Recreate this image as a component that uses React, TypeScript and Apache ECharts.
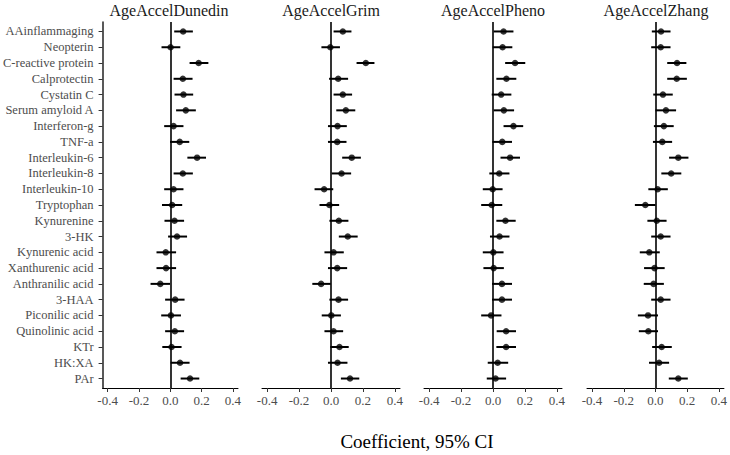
import React, { useEffect, useRef } from "react";
import * as echarts from "echarts";

const categories = [
  "AAinflammaging", "Neopterin", "C-reactive protein", "Calprotectin", "Cystatin C",
  "Serum amyloid A", "Interferon-g", "TNF-a", "Interleukin-6", "Interleukin-8",
  "Interleukin-10", "Tryptophan", "Kynurenine", "3-HK", "Kynurenic acid",
  "Xanthurenic acid", "Anthranilic acid", "3-HAA", "Piconilic acid", "Quinolinic acid",
  "KTr", "HK:XA", "PAr",
];

const panelTitles = ["AgeAccelDunedin", "AgeAccelGrim", "AgeAccelPheno", "AgeAccelZhang"];
const xTicks = [-0.4, -0.2, 0, 0.2, 0.4];

const dunedinEst = [0.082, 0.002, 0.181, 0.080, 0.084, 0.099, 0.021, 0.060, 0.171, 0.080, 0.021, 0.012, 0.027, 0.043, -0.029, -0.027, -0.064, 0.031, 0.004, 0.029, 0.008, 0.062, 0.126];
const dunedinLo = [0.025, -0.056, 0.123, 0.021, 0.027, 0.037, -0.039, -0.002, 0.109, 0.021, -0.039, -0.053, -0.037, -0.014, -0.088, -0.088, -0.126, -0.033, -0.058, -0.033, -0.051, 0.002, 0.066];
const dunedinHi = [0.144, 0.064, 0.243, 0.142, 0.146, 0.163, 0.084, 0.121, 0.228, 0.144, 0.084, 0.076, 0.088, 0.107, 0.037, 0.037, -0.002, 0.091, 0.068, 0.088, 0.072, 0.123, 0.185];

const grimEst = [0.074, -0.004, 0.218, 0.045, 0.074, 0.093, 0.041, 0.039, 0.130, 0.066, -0.043, -0.010, 0.049, 0.105, 0.016, 0.039, -0.062, 0.047, 0.002, 0.016, 0.053, 0.041, 0.119];
const grimLo = [0.016, -0.060, 0.160, -0.012, 0.016, 0.033, -0.019, -0.019, 0.070, 0.004, -0.103, -0.072, -0.010, 0.049, -0.041, -0.019, -0.117, -0.010, -0.058, -0.041, -0.004, -0.019, 0.062];
const grimHi = [0.128, 0.056, 0.272, 0.107, 0.132, 0.152, 0.099, 0.097, 0.187, 0.126, 0.014, 0.051, 0.109, 0.167, 0.080, 0.101, -0.002, 0.107, 0.062, 0.076, 0.111, 0.103, 0.177];

const phenoEst = [0.066, 0.060, 0.138, 0.084, 0.051, 0.068, 0.128, 0.058, 0.107, 0.039, -0.002, -0.008, 0.078, 0.041, 0.002, 0.004, 0.056, 0.056, -0.012, 0.082, 0.082, 0.029, 0.016];
const phenoLo = [0.004, -0.002, 0.076, 0.021, -0.008, 0.004, 0.066, -0.004, 0.047, -0.023, -0.064, -0.074, 0.021, -0.019, -0.064, -0.060, -0.006, -0.006, -0.074, 0.023, 0.021, -0.033, -0.039];
const phenoHi = [0.128, 0.121, 0.202, 0.146, 0.115, 0.132, 0.189, 0.119, 0.169, 0.103, 0.060, 0.058, 0.142, 0.103, 0.066, 0.068, 0.119, 0.119, 0.053, 0.144, 0.144, 0.095, 0.082];

const zhangEst = [0.035, 0.033, 0.136, 0.134, 0.047, 0.066, 0.053, 0.043, 0.144, 0.099, 0.014, -0.064, 0.008, 0.033, -0.039, -0.006, -0.012, 0.033, -0.047, -0.045, 0.039, 0.023, 0.144];
const zhangLo = [-0.023, -0.027, 0.074, 0.074, -0.014, 0.000, -0.010, -0.016, 0.086, 0.037, -0.045, -0.130, -0.051, -0.027, -0.099, -0.072, -0.074, -0.027, -0.111, -0.105, -0.021, -0.041, 0.084];
const zhangHi = [0.095, 0.095, 0.195, 0.198, 0.109, 0.130, 0.115, 0.105, 0.208, 0.163, 0.078, 0.000, 0.070, 0.095, 0.027, 0.058, 0.053, 0.095, 0.016, 0.016, 0.103, 0.086, 0.204];

const panels = [
  { est: dunedinEst, lo: dunedinLo, hi: dunedinHi },
  { est: grimEst, lo: grimLo, hi: grimHi },
  { est: phenoEst, lo: phenoLo, hi: phenoHi },
  { est: zhangEst, lo: zhangLo, hi: zhangHi },
];

const SERIF = "Liberation Serif";

export default function App() {
  const ref = useRef<HTMLDivElement>(null);
  useEffect(() => {
    if (!ref.current) return;
    const chart = echarts.init(ref.current, undefined, { renderer: "svg" });
    const lefts = [100, 262, 424, 587];
    const width = 138;
    const top = 22;
    const height = 366;
    const n = categories.length;
    const idx = Array.from({ length: n }, (_, i) => i);

    const grid = lefts.map((l) => ({ left: l, top, width, height }));
    const xAxis = lefts.map((_, k) => ({
      type: "value",
      gridIndex: k,
      position: "bottom",
      min: -0.432,
      max: 0.432,
      splitLine: { show: false },
      axisLine: { show: true, onZero: false, lineStyle: { color: "#000", width: 1 } },
      axisTick: { show: true, length: 4, customValues: xTicks, lineStyle: { color: "#333" } },
      axisLabel: {
        customValues: xTicks,
        formatter: (v: number) => v.toFixed(1),
        color: "#4d4d4d",
        fontFamily: SERIF,
        fontSize: 13,
        margin: 6,
      },
    }));
    const yAxis = lefts.map((_, k) => ({
      type: "value",
      gridIndex: k,
      position: "left",
      min: -0.6,
      max: n - 1 + 0.6,
      inverse: true,
      show: true,
      splitLine: { show: false },
      axisLine: { show: k === 0, onZero: false, lineStyle: { color: "#222", width: 1.5 } },
      axisTick: { show: k === 0, length: 4, customValues: idx, lineStyle: { color: "#333", width: 1 } },
      axisLabel: {
        show: k === 0,
        customValues: idx,
        formatter: (v: number) => categories[Math.round(v)] ?? "",
        color: "#4d4d4d",
        fontFamily: SERIF,
        fontSize: 12.5,
        margin: 9,
      },
    }));

    const series: any[] = [];
    panels.forEach((p, k) => {
      series.push({
        type: "custom",
        xAxisIndex: k,
        yAxisIndex: k,
        silent: true,
        z: 3,
        data: idx.map((i) => [p.lo[i], p.hi[i], i]),
        encode: { x: [0, 1], y: 2 },
        renderItem: (_params: any, api: any) => {
          const a = api.coord([api.value(0), api.value(2)]);
          const b = api.coord([api.value(1), api.value(2)]);
          return {
            type: "line",
            shape: { x1: a[0], y1: a[1], x2: b[0], y2: b[1] },
            style: { stroke: "#000", lineWidth: 2 },
          };
        },
      });
      series.push({
        type: "scatter",
        xAxisIndex: k,
        yAxisIndex: k,
        silent: true,
        z: 4,
        symbol: "circle",
        symbolSize: 6.5,
        itemStyle: { color: "#000" },
        data: idx.map((i) => [p.est[i], i]),
        markLine: {
          silent: true,
          symbol: ["none", "none"],
          label: { show: false },
          lineStyle: { color: "#000", width: 1.6, type: "solid" },
          data: [{ xAxis: 0 }],
          z: 2,
        },
      });
    });

    const graphic: any[] = lefts.map((l, k) => ({
      type: "text",
      x: l + width / 2,
      y: 10,
      style: {
        text: panelTitles[k],
        fill: "#1a1a1a",
        font: `16px "${SERIF}"`,
        textAlign: "center",
        textVerticalAlign: "middle",
      },
    }));
    graphic.push({
      type: "text",
      x: 417,
      y: 441,
      style: {
        text: "Coefficient, 95% CI",
        fill: "#000",
        font: `19px "${SERIF}"`,
        textAlign: "center",
        textVerticalAlign: "middle",
      },
    });

    chart.setOption({
      animation: false,
      backgroundColor: "#fff",
      textStyle: { fontFamily: SERIF },
      grid,
      xAxis,
      yAxis,
      series,
      graphic,
    });
    return () => chart.dispose();
  }, []);
  return (
    <div
      ref={ref}
      style={{ position: "absolute", left: 0, top: 0, width: 730, height: 455 }}
    />
  );
}
